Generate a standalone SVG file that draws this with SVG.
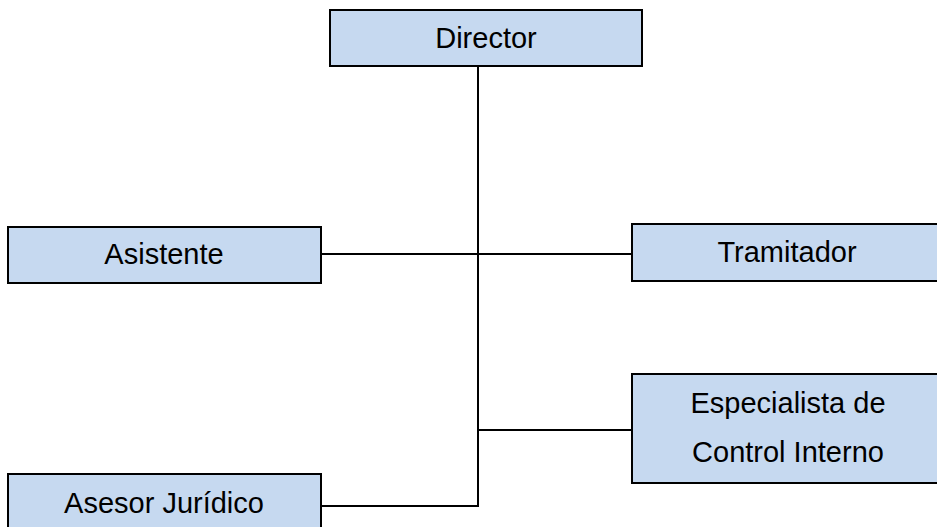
<svg xmlns="http://www.w3.org/2000/svg" width="937" height="527" viewBox="0 0 937 527">
<style>
.box{fill:#c6d9f0;stroke:#000;stroke-width:2}
.lbl{font-family:"Liberation Sans",Arial,sans-serif;font-size:29px;fill:#000;text-anchor:middle}
.con{stroke:#000;stroke-width:2;fill:none}
</style>
<rect width="937" height="527" fill="#fff"/>
<g id="connectors">
<line class="con" x1="478" y1="66" x2="478" y2="507"/>
<line class="con" x1="321" y1="254" x2="632" y2="254"/>
<line class="con" x1="477" y1="430" x2="632" y2="430"/>
<line class="con" x1="321" y1="506" x2="479" y2="506"/>
</g>
<g id="director">
<rect class="box" x="330" y="10" width="312" height="56"/>
<text class="lbl" x="486" y="48">Director</text>
</g>
<g id="asistente">
<rect class="box" x="8" y="227" width="313" height="56"/>
<text class="lbl" x="164" y="264">Asistente</text>
</g>
<g id="tramitador">
<rect class="box" x="632" y="224" width="310" height="57"/>
<text class="lbl" x="787" y="262">Tramitador</text>
</g>
<g id="especialista">
<rect class="box" x="632" y="374" width="310" height="109"/>
<text class="lbl" x="788" y="413">Especialista de</text>
<text class="lbl" x="788" y="462">Control Interno</text>
</g>
<g id="asesor">
<rect class="box" x="8" y="474" width="313" height="60"/>
<text class="lbl" x="164" y="513">Asesor Jurídico</text>
</g>
</svg>
